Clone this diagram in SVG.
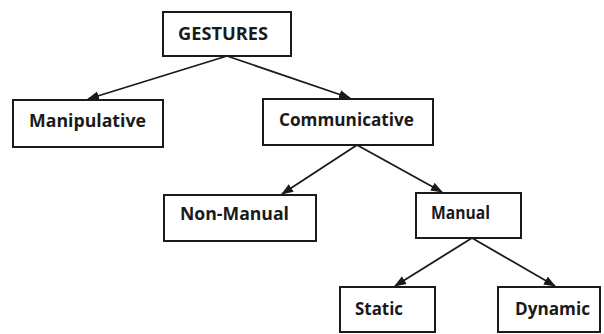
<svg xmlns="http://www.w3.org/2000/svg" width="604" height="334" viewBox="0 0 604 334">
<style>
.box{fill:#fff;stroke:#1a1a1a;stroke-width:2}
.lbl{font-family:"Open Sans","Liberation Sans",sans-serif;font-weight:bold;font-size:18px;fill:#1a1a1a;text-anchor:middle}
.edge{stroke:#1a1a1a;stroke-width:1.8;fill:none;marker-end:url(#ah)}
</style>
<defs>
<marker id="ah" markerUnits="userSpaceOnUse" markerWidth="12" markerHeight="10" refX="11" refY="5" orient="auto">
<path d="M0,0.5 L12,5 L0,9.5 Z" fill="#1a1a1a"/>
</marker>
</defs>
<rect width="604" height="334" fill="#fff"/>
<g id="connectors">
<line class="edge" x1="227" y1="56" x2="88" y2="99"/>
<line class="edge" x1="227" y1="56" x2="350" y2="98"/>
<line class="edge" x1="357" y1="145" x2="282" y2="194"/>
<line class="edge" x1="357" y1="145" x2="442" y2="192"/>
<line class="edge" x1="472" y1="238" x2="395" y2="286"/>
<line class="edge" x1="472" y1="238" x2="555" y2="286"/>
</g>
<g id="gestures"><rect class="box" x="163" y="12" width="128" height="44"/><text class="lbl" x="223" y="40" textLength="90" lengthAdjust="spacingAndGlyphs">GESTURES</text></g>
<g id="manipulative"><rect class="box" x="13" y="100" width="150" height="47"/><text class="lbl" x="87.5" y="127" textLength="117" lengthAdjust="spacingAndGlyphs">Manipulative</text></g>
<g id="communicative"><rect class="box" x="263" y="99" width="170" height="46"/><text class="lbl" x="346.5" y="126" textLength="135" lengthAdjust="spacingAndGlyphs">Communicative</text></g>
<g id="non-manual"><rect class="box" x="164" y="195" width="152" height="46"/><text class="lbl" x="234.5" y="220" textLength="109" lengthAdjust="spacingAndGlyphs">Non-Manual</text></g>
<g id="manual"><rect class="box" x="416" y="193" width="105" height="45"/><text class="lbl" x="460.5" y="219" textLength="59" lengthAdjust="spacingAndGlyphs">Manual</text></g>
<g id="static"><rect class="box" x="340" y="287" width="95" height="45"/><text class="lbl" x="379" y="315" textLength="48" lengthAdjust="spacingAndGlyphs">Static</text></g>
<g id="dynamic"><rect class="box" x="498" y="287" width="102" height="45"/><text class="lbl" x="552.5" y="315" textLength="75" lengthAdjust="spacingAndGlyphs">Dynamic</text></g>
</svg>
